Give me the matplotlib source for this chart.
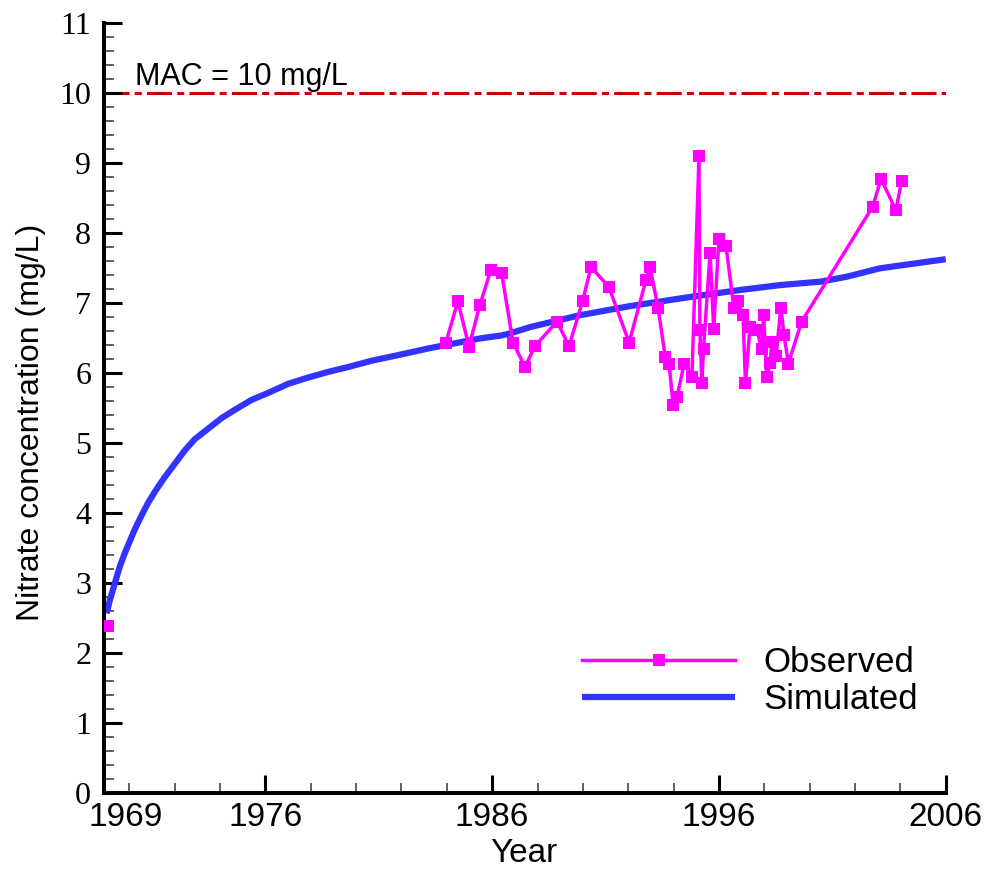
import numpy as np
import matplotlib
matplotlib.use("Agg")
import matplotlib.pyplot as plt
from matplotlib.ticker import FixedLocator, MultipleLocator
from matplotlib.transforms import ScaledTranslation

# Observed nitrate concentrations (mg/L); NaN separates the 1969 sample from the later record
obs_year = [1969.07, np.nan,
            1983.96, 1984.49, 1984.98, 1985.46, 1985.95, 1986.42, 1986.92, 1987.45,
            1987.89, 1988.86, 1989.39, 1989.99, 1990.36, 1991.15, 1992.04, 1992.79,
            1992.96, 1993.32, 1993.63, 1993.80, 1993.98, 1994.15, 1994.47, 1994.81,
            1995.12, 1995.16, 1995.25, 1995.32, 1995.61, 1995.77, 1996.00, 1996.31,
            1996.66, 1996.84, 1997.06, 1997.17, 1997.37, 1997.67, 1997.89, 1997.97,
            1998.11, 1998.25, 1998.34, 1998.52, 1998.73, 1998.87, 1999.06, 1999.65,
            2002.78, 2003.15, 2003.80, 2004.06]
obs_conc = [2.39, np.nan,
            6.44, 7.03, 6.38, 6.98, 7.48, 7.43, 6.44, 6.09,
            6.39, 6.74, 6.39, 7.03, 7.52, 7.23, 6.44, 7.34,
            7.52, 6.93, 6.24, 6.14, 5.55, 5.66, 6.14, 5.95,
            9.10, 6.62, 5.86, 6.35, 7.72, 6.63, 7.92, 7.82,
            6.94, 7.03, 6.84, 5.86, 6.66, 6.62, 6.35, 6.84,
            5.95, 6.15, 6.45, 6.25, 6.94, 6.55, 6.14, 6.74,
            8.38, 8.78, 8.33, 8.75]

# Simulated nitrate concentrations (mg/L)
sim_year = [1969.00, 1969.14, 1969.36, 1969.58, 1969.80, 1970.02, 1970.24, 1970.54,
            1970.83, 1971.13, 1971.57, 1972.01, 1972.45, 1972.89, 1973.48, 1974.07,
            1974.66, 1975.39, 1976.12, 1977.01, 1977.89, 1978.77, 1979.65, 1980.69,
            1981.71, 1983.26, 1985.50, 1986.40, 1986.79, 1987.67, 1989.87, 1992.08,
            1994.72, 1996.93, 1998.69, 2000.50, 2001.64, 2003.10, 2006.00]
sim_conc = [2.57, 2.76, 3.00, 3.24, 3.43, 3.60, 3.77, 3.97,
            4.15, 4.31, 4.52, 4.71, 4.90, 5.06, 5.21, 5.36,
            5.48, 5.62, 5.72, 5.85, 5.94, 6.02, 6.09, 6.18,
            6.25, 6.36, 6.50, 6.54, 6.57, 6.66, 6.83, 6.96,
            7.09, 7.19, 7.26, 7.31, 7.38, 7.50, 7.63]

mac_level = 10
mac_label = "MAC = 10 mg/L"
x_major = [1969, 1976, 1986, 1996, 2006]
x_labels = ["1969", "1976", "1986", "1996", "2006"]
y_major = list(range(0, 12))

sans = ["Liberation Sans", "DejaVu Sans"]
serif = ["Liberation Serif", "DejaVu Serif"]

fig = plt.figure(figsize=(9.92, 8.73), dpi=100)
ax = fig.add_axes([103.7 / 992, 1 - 793.3 / 873, (945.7 - 103.7) / 992, (793.3 - 23.3) / 873])

ax.set_xlim(1968.87, 2006)
ax.set_ylim(0, 11)

# MAC threshold
ax.axhline(mac_level, color="#CC0000", lw=2.2, ls=(0, (8.2, 1.7, 2.3, 1.7)), zorder=1)
ax.text(1970.25, mac_level + 0.12, mac_label, fontsize=22, family=sans,
        ha="left", va="baseline")

sim_line, = ax.plot(sim_year, sim_conc, color="#3333FF", lw=4.5,
                    solid_capstyle="butt", solid_joinstyle="round", zorder=2)
obs_line, = ax.plot(obs_year, obs_conc, color="#FF00FF", lw=2.5, marker="s",
                    markersize=8.5, markeredgewidth=0, zorder=3)

# Axes styling
for side in ("top", "right"):
    ax.spines[side].set_visible(False)
for side in ("left", "bottom"):
    ax.spines[side].set_linewidth(2.9)

ax.xaxis.set_major_locator(FixedLocator(x_major))
ax.set_xticklabels(x_labels)
ax.xaxis.set_minor_locator(FixedLocator(list(range(1970, 2006, 2))))
ax.yaxis.set_major_locator(FixedLocator(y_major))
ax.yaxis.set_minor_locator(MultipleLocator(0.2))

ax.tick_params(which="major", direction="in", length=13, width=2.2, color="black")
ax.tick_params(which="minor", direction="in", length=7.5, width=1.1, color="#333333")
ax.tick_params(axis="x", which="major", pad=6, labelsize=24)
ax.tick_params(axis="y", which="major", pad=9, labelsize=23)
for lab in ax.get_xticklabels():
    lab.set_family(sans)
for lab in ax.get_yticklabels():
    lab.set_family(serif)

# first year label sits clear of the corner; its tick mark is hidden under the spine
first_tick = ax.xaxis.get_major_ticks()[0]
first_tick.tick1line.set_visible(False)
first_tick.label1.set_transform(first_tick.label1.get_transform()
                                + ScaledTranslation(14 / 72, 0, fig.dpi_scale_trans))

ax.set_xlabel("Year", fontsize=24, family=sans)
ax.set_ylabel("Nitrate concentration (mg/L)", fontsize=23, family=sans)
ax.xaxis.set_label_coords(0.4994, -0.058)
ax.yaxis.set_label_coords(-0.068, 0.482)

leg = ax.legend([obs_line, sim_line], ["Observed", "Simulated"], loc="center",
                bbox_to_anchor=(0.7675, 0.146), frameon=False,
                prop={"family": sans, "size": 25}, handlelength=4.4,
                handletextpad=0.8, labelspacing=0.12, borderpad=0, numpoints=1)

fig.savefig("out.png", dpi=100)
